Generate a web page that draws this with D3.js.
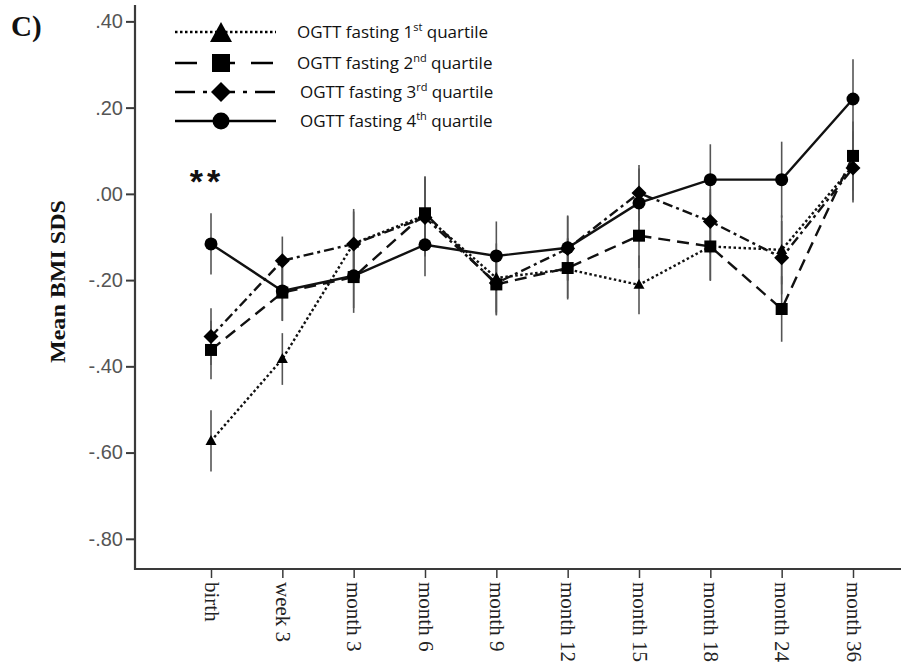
<!DOCTYPE html>
<html>
<head>
<meta charset="utf-8">
<script src="https://cdn.jsdelivr.net/npm/d3@7"></script>
<style>
  body { margin: 0; background: #fff; }
  svg { display: block; }
</style>
</head>
<body>
<svg id="chart" width="901" height="668"></svg>
<script>
// Measurement occasions
const categories = ["birth", "week 3", "month 3", "month 6", "month 9",
                    "month 12", "month 15", "month 18", "month 24", "month 36"];

// Mean BMI SDS by OGTT fasting quartile
const q1Mean = [-0.573, -0.383, -0.115, -0.050, -0.195, -0.175, -0.211, -0.122, -0.130, 0.065];
const q2Mean = [-0.362, -0.229, -0.193, -0.045, -0.210, -0.172, -0.097, -0.122, -0.267, 0.088];
const q3Mean = [-0.331, -0.155, -0.116, -0.055, -0.207, -0.127, 0.002, -0.064, -0.148, 0.060];
const q4Mean = [-0.116, -0.225, -0.190, -0.118, -0.144, -0.125, -0.021, 0.033, 0.033, 0.220];

// Half-width of the error bars
const q1Err = [0.071, 0.060, 0.080, 0.090, 0.080, 0.070, 0.068, 0.080, 0.080, 0.080];
const q2Err = [0.068, 0.065, 0.083, 0.085, 0.070, 0.070, 0.075, 0.078, 0.076, 0.080];
const q3Err = [0.066, 0.056, 0.075, 0.090, 0.075, 0.075, 0.065, 0.075, 0.085, 0.080];
const q4Err = [0.071, 0.070, 0.075, 0.073, 0.080, 0.075, 0.080, 0.082, 0.088, 0.092];

const yTicks = [0.4, 0.2, 0, -0.2, -0.4, -0.6, -0.8];
const quartileOrdinals = [["1", "st"], ["2", "nd"], ["3", "rd"], ["4", "th"]];

const series = [
  { mean: q1Mean, err: q1Err, symbol: "triangle", dash: "2.5,2.5", legendDash: "2.5,2.5" },
  { mean: q2Mean, err: q2Err, symbol: "square",   dash: "12,7",    legendDash: "22,16,0,0" },
  { mean: q3Mean, err: q3Err, symbol: "diamond",  dash: "10,4,3,4", legendDash: "20,8,4,8" },
  { mean: q4Mean, err: q4Err, symbol: "circle",   dash: null,      legendDash: null }
];

const svg = d3.select("#chart");
const axisColor = "#3a3a3a";

const x = d3.scalePoint().domain(categories).range([211, 853]);
const y = d3.scaleLinear().domain([-0.87, 0.438]).range([569, 5]);

// Marker shapes, centred on the origin
function markerPath(kind, s) {
  if (kind === "triangle") {
    const h = s * 0.9;
    return `M0,${-h * 0.6}L${s / 2},${h * 0.4}L${-s / 2},${h * 0.4}Z`;
  }
  if (kind === "square") return `M${-s / 2},${-s / 2}h${s}v${s}h${-s}Z`;
  if (kind === "diamond") return `M0,${-s / 2}L${s / 2},0L0,${s / 2}L${-s / 2},0Z`;
  return d3.arc()({ innerRadius: 0, outerRadius: s / 2, startAngle: 0, endAngle: 2 * Math.PI });
}
const plotSize = { triangle: 11, square: 12, diamond: 15, circle: 13 };
const legendSize = { triangle: 22, square: 18, diamond: 20, circle: 17 };

// Y axis
const yAxis = d3.axisLeft(y)
  .tickValues(yTicks)
  .tickSize(9)
  .tickPadding(3)
  .tickFormat(d => d3.format(".2f")(d).replace("\u2212", "-").replace("0.", "."));
const gy = svg.append("g").attr("transform", "translate(135,0)").call(yAxis);
gy.select(".domain").remove();
gy.selectAll(".tick line").attr("stroke", axisColor).attr("stroke-width", 2);
gy.selectAll(".tick text")
  .attr("fill", "#555")
  .style("font-family", "'Liberation Sans', Arial, sans-serif")
  .style("font-size", "20px");

// X axis
const xAxis = d3.axisBottom(x).tickSize(9);
const gx = svg.append("g").attr("transform", "translate(0,569)").call(xAxis);
gx.select(".domain").remove();
gx.selectAll(".tick line").attr("stroke", axisColor).attr("stroke-width", 1.5);
gx.selectAll(".tick text")
  .attr("transform", "rotate(90)")
  .attr("x", 13)
  .attr("y", 0)
  .attr("dy", "0.33em")
  .style("text-anchor", "start")
  .attr("fill", "#222")
  .style("font-family", "'Liberation Serif', 'Times New Roman', serif")
  .style("font-size", "21px");

// Axis lines
svg.append("line").attr("x1", 135).attr("x2", 135).attr("y1", 5).attr("y2", 570)
  .attr("stroke", axisColor).attr("stroke-width", 2.2);
svg.append("line").attr("x1", 134).attr("x2", 901).attr("y1", 569).attr("y2", 569)
  .attr("stroke", axisColor).attr("stroke-width", 2);

// Error bars
const plot = svg.append("g");
series.forEach(s => {
  plot.append("g").selectAll("line")
    .data(categories)
    .join("line")
    .attr("x1", d => x(d)).attr("x2", d => x(d))
    .attr("y1", (d, i) => y(s.mean[i] - s.err[i]))
    .attr("y2", (d, i) => y(s.mean[i] + s.err[i]))
    .attr("stroke", "#555")
    .attr("stroke-width", 1.6);
});

// Lines
const line = d3.line().x(d => x(d.c)).y(d => y(d.v));
series.forEach(s => {
  plot.append("path")
    .datum(categories.map((c, i) => ({ c, v: s.mean[i] })))
    .attr("d", line)
    .attr("fill", "none")
    .attr("stroke", "#111")
    .attr("stroke-width", 2.4)
    .attr("stroke-dasharray", s.dash);
});

// Markers
series.forEach(s => {
  plot.append("g").selectAll("path")
    .data(categories)
    .join("path")
    .attr("transform", (d, i) => `translate(${x(d)},${y(s.mean[i])})`)
    .attr("d", markerPath(s.symbol, plotSize[s.symbol]))
    .attr("fill", "#000");
});

// Legend
const legendRows = [32, 63, 92, 121];
const legend = svg.append("g");
series.forEach((s, i) => {
  const row = legend.append("g").attr("transform", `translate(0,${legendRows[i]})`);
  row.append("line").attr("x1", 175).attr("x2", 276).attr("y1", 0).attr("y2", 0)
    .attr("stroke", "#000").attr("stroke-width", 2.6)
    .attr("stroke-dasharray", s.legendDash);
  row.append("path")
    .attr("transform", `translate(221,${s.symbol === "triangle" ? 2 : 0})`)
    .attr("d", markerPath(s.symbol, legendSize[s.symbol]))
    .attr("fill", "#000");
  const t = row.append("text")
    .attr("x", i < 2 ? 297 : 300)
    .attr("y", 6)
    .attr("fill", "#111")
    .style("font-family", "'Open Sans', 'Liberation Sans', sans-serif")
    .style("font-size", "17px");
  t.append("tspan").text(`OGTT fasting ${quartileOrdinals[i][0]}`);
  t.append("tspan").text(quartileOrdinals[i][1])
    .attr("dy", -7).style("font-size", "11px");
  t.append("tspan").text(" quartile").attr("dy", 7);
});

// Y axis title
svg.append("text")
  .attr("transform", "translate(65,281.5) rotate(-90)")
  .attr("text-anchor", "middle")
  .attr("fill", "#111")
  .attr("textLength", 163)
  .attr("lengthAdjust", "spacingAndGlyphs")
  .style("font-family", "'Liberation Serif', 'Times New Roman', serif")
  .style("font-weight", "bold")
  .style("font-size", "21px")
  .text("Mean BMI SDS");

// Panel letter
svg.append("text")
  .attr("x", 11).attr("y", 36)
  .attr("fill", "#111")
  .style("font-family", "'Liberation Serif', 'Times New Roman', serif")
  .style("font-weight", "bold")
  .style("font-size", "29px")
  .text("C)");

// Significance marker at birth
svg.append("text")
  .attr("x", x("birth") - 4).attr("y", 193)
  .attr("text-anchor", "middle")
  .attr("fill", "#111")
  .style("font-family", "'Liberation Sans', Arial, sans-serif")
  .style("font-weight", "bold")
  .style("font-size", "34px")
  .style("letter-spacing", "4px")
  .text("**");
</script>
</body>
</html>
